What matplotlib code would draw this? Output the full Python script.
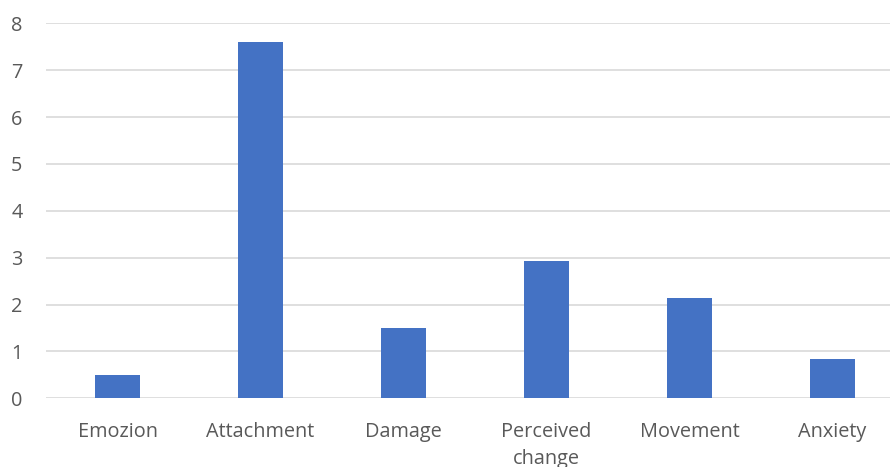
import matplotlib.pyplot as plt
import numpy as np

categories = ["Emozion", "Attachment", "Damage", "Perceived\nchange", "Movement", "Anxiety"]
values = [0.5, 7.6, 1.5, 2.93, 2.15, 0.83]
yticks = [0, 1, 2, 3, 4, 5, 6, 7, 8]

plt.rcParams['font.family'] = ['Open Sans', 'DejaVu Sans']

fig = plt.figure(figsize=(8.9, 4.67), dpi=100)
ax = fig.add_axes([0.0517, 0.147, 0.964, 0.803])

x = np.arange(len(categories))
ax.bar(x, values, width=0.31, color='#4472C4', zorder=3)

ax.set_xlim(-0.5, len(categories) - 0.5)
ax.set_ylim(0, 8)
ax.set_yticks(yticks)
ax.set_xticks(x)
ax.set_xticklabels(categories, linespacing=1.45)

ax.yaxis.grid(True, color='#d9d9d9', linewidth=1.2, zorder=0)
for s in ax.spines.values():
    s.set_visible(False)
ax.tick_params(axis='both', length=0, labelsize=14.3, colors='#595959')
ax.tick_params(axis='y', pad=17)
ax.tick_params(axis='x', pad=17)

fig.savefig("out.png", dpi=100)
